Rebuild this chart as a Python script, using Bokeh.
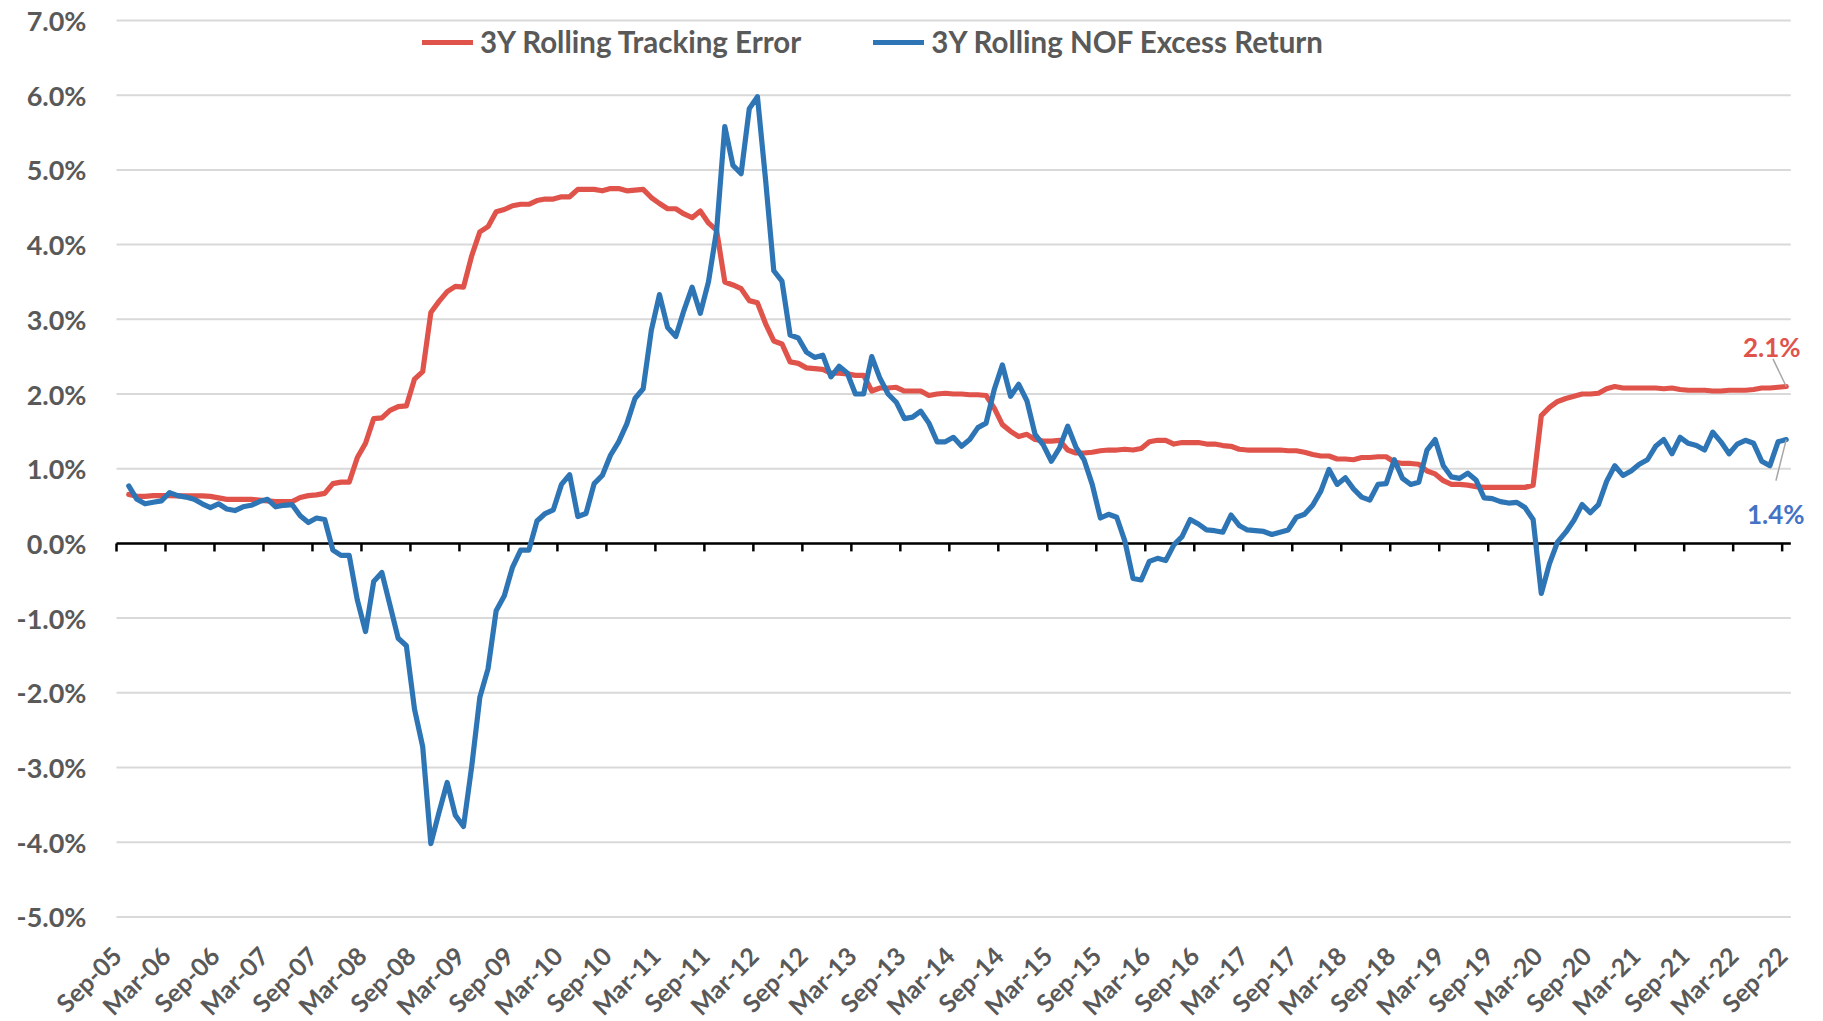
from math import pi
from bokeh.plotting import figure
from bokeh.models import (FixedTicker, PrintfTickFormatter, Legend, LegendItem,
                          Label, Range1d, LinearAxis)
from bokeh.embed import file_html
from bokeh.resources import INLINE

# ---------------- data ----------------
tick_labels = ["Sep-05", "Mar-06", "Sep-06", "Mar-07", "Sep-07", "Mar-08", "Sep-08",
               "Mar-09", "Sep-09", "Mar-10", "Sep-10", "Mar-11", "Sep-11", "Mar-12",
               "Sep-12", "Mar-13", "Sep-13", "Mar-14", "Sep-14", "Mar-15", "Sep-15",
               "Mar-16", "Sep-16", "Mar-17", "Sep-17", "Mar-18", "Sep-18", "Mar-19",
               "Sep-19", "Mar-20", "Sep-20", "Mar-21", "Sep-21", "Mar-22", "Sep-22"]

# 3Y rolling tracking error (%), monthly
tracking_error = [
    0.655, 0.63, 0.63, 0.64, 0.64, 0.64, 0.635, 0.635, 0.635, 0.635, 0.63,
    0.61, 0.59, 0.59, 0.59, 0.59, 0.58, 0.57, 0.56, 0.56, 0.56,
    0.615, 0.64, 0.65, 0.67, 0.80, 0.82, 0.82, 1.15, 1.34, 1.67,
    1.68, 1.78, 1.83, 1.84, 2.20, 2.30, 3.09, 3.24, 3.37, 3.44,
    3.43, 3.85, 4.17, 4.24, 4.44, 4.47, 4.52, 4.54, 4.54, 4.59,
    4.61, 4.61, 4.64, 4.64, 4.74, 4.74, 4.74, 4.72, 4.75, 4.75,
    4.72, 4.73, 4.74, 4.63, 4.55, 4.48, 4.48, 4.41, 4.36, 4.45,
    4.29, 4.19, 3.50, 3.46, 3.41, 3.25, 3.22, 2.94, 2.71, 2.67,
    2.43, 2.41, 2.35, 2.34, 2.33, 2.28, 2.28, 2.27, 2.25, 2.25,
    2.04, 2.08, 2.08, 2.09, 2.04, 2.04, 2.04, 1.98, 2.00, 2.01,
    2.00, 2.00, 1.99, 1.99, 1.98, 1.81, 1.59, 1.50, 1.43, 1.46,
    1.39, 1.37, 1.37, 1.38, 1.25, 1.21, 1.21, 1.22, 1.24, 1.25,
    1.25, 1.26, 1.25, 1.27, 1.36, 1.38, 1.38, 1.33, 1.35, 1.35,
    1.35, 1.33, 1.33, 1.31, 1.30, 1.26, 1.25, 1.25, 1.25, 1.25,
    1.25, 1.24, 1.24, 1.22, 1.19, 1.17, 1.17, 1.13, 1.13, 1.12,
    1.15, 1.15, 1.16, 1.16, 1.09, 1.07, 1.07, 1.06, 0.97, 0.93,
    0.84, 0.79, 0.79, 0.78, 0.76, 0.75, 0.75, 0.75, 0.75, 0.75,
    0.75, 0.78, 1.71, 1.82, 1.90, 1.94, 1.97, 2.00, 2.00, 2.01,
    2.07, 2.10, 2.08, 2.08, 2.08, 2.08, 2.08, 2.07, 2.08, 2.06,
    2.05, 2.05, 2.05, 2.04, 2.04, 2.05, 2.05, 2.05, 2.06, 2.08,
    2.08, 2.09, 2.10,
]

# 3Y rolling NOF excess return (%), monthly
excess_return = [
    0.77, 0.59, 0.53, 0.55, 0.57, 0.68, 0.64, 0.62, 0.59, 0.53, 0.48,
    0.53, 0.46, 0.44, 0.49, 0.51, 0.56, 0.59, 0.49, 0.51, 0.52,
    0.37, 0.28, 0.34, 0.32, -0.09, -0.16, -0.16, -0.76, -1.18, -0.51,
    -0.39, -0.83, -1.27, -1.37, -2.22, -2.72, -4.02, -3.60, -3.20, -3.64,
    -3.79, -2.99, -2.06, -1.68, -0.90, -0.70, -0.32, -0.09, -0.09, 0.30,
    0.40, 0.45, 0.79, 0.92, 0.36, 0.40, 0.80, 0.91, 1.18, 1.36,
    1.60, 1.94, 2.07, 2.85, 3.33, 2.89, 2.77, 3.12, 3.43, 3.08,
    3.50, 4.19, 5.58, 5.06, 4.95, 5.82, 5.98, 4.86, 3.65, 3.51,
    2.79, 2.75, 2.56, 2.49, 2.52, 2.23, 2.37, 2.28, 2.00, 2.00,
    2.50, 2.21, 2.00, 1.89, 1.67, 1.69, 1.77, 1.61, 1.36, 1.36,
    1.42, 1.30, 1.39, 1.55, 1.61, 2.06, 2.39, 1.97, 2.13, 1.91,
    1.46, 1.32, 1.10, 1.28, 1.57, 1.29, 1.12, 0.79, 0.34, 0.39,
    0.35, 0.03, -0.47, -0.49, -0.24, -0.20, -0.23, -0.02, 0.09, 0.32,
    0.26, 0.18, 0.17, 0.15, 0.38, 0.24, 0.18, 0.17, 0.16, 0.12,
    0.15, 0.18, 0.35, 0.39, 0.51, 0.70, 0.99, 0.79, 0.88, 0.73,
    0.62, 0.58, 0.79, 0.80, 1.12, 0.87, 0.79, 0.82, 1.25, 1.39,
    1.04, 0.89, 0.87, 0.94, 0.85, 0.61, 0.60, 0.56, 0.54, 0.55,
    0.48, 0.32, -0.67, -0.27, 0.02, 0.15, 0.31, 0.52, 0.41, 0.52,
    0.83, 1.04, 0.91, 0.97, 1.06, 1.12, 1.30, 1.39, 1.20, 1.42,
    1.34, 1.31, 1.25, 1.49, 1.36, 1.20, 1.33, 1.38, 1.34, 1.10,
    1.04, 1.36, 1.39,
]

y_ticks = [-5, -4, -3, -2, -1, 0, 1, 2, 3, 4, 5, 6, 7]

# x positions: months after the first axis tick (Sep-05); observations at month end
first_obs_offset = 1.5
months = [first_obs_offset + i for i in range(len(tracking_error))]
tick_pos = [6 * k for k in range(len(tick_labels))]

# ---------------- layout constants (pixels) ----------------
RED = "#E0534B"
BLUE = "#2E75B6"
LABEL_BLUE = "#4472C4"
GRAY_TXT = "#595959"
GRID = "#D9D9D9"
FONT = "Lato"

CANVAS_W, CANVAS_H = 1815, 1020
PLOT_LEFT, PLOT_TOP = 116, 20        # pixel position of (Sep-05, 7%)
px_x = 8.165                          # pixels per month
px_y = 74.70                          # pixels per percentage point
X_AXIS_END = 205.06                   # right end of the plotting area (months)
Y_MIN, Y_MAX = -5, 7

x_view = (-PLOT_LEFT / px_x, (CANVAS_W - PLOT_LEFT) / px_x)
y_view = (Y_MAX - (CANVAS_H - PLOT_TOP) / px_y, Y_MAX + PLOT_TOP / px_y)

p = figure(frame_width=CANVAS_W, frame_height=CANVAS_H,
           x_range=Range1d(*x_view), y_range=Range1d(*y_view),
           output_backend="svg", toolbar_location=None,
           x_axis_location=None, y_axis_location=None,
           min_border=0, outline_line_color=None,
           background_fill_color="white", border_fill_color="white")
p.xgrid.grid_line_color = None
p.ygrid.grid_line_color = None

# value axis: labels only, pinned at the left edge of the plotting area
value_axis = LinearAxis(ticker=FixedTicker(ticks=y_ticks), fixed_location=0,
                        formatter=PrintfTickFormatter(format="%.1f%%"),
                        axis_line_color=None, major_tick_line_color=None,
                        minor_tick_line_color=None, major_tick_out=0, major_tick_in=0,
                        major_label_standoff=30,
                        major_label_text_font=FONT, major_label_text_font_style="bold",
                        major_label_text_font_size="27px",
                        major_label_text_color=GRAY_TXT)
p.add_layout(value_axis, "left")

# date labels: an axis pinned to the bottom gridline (-5%)
date_axis = LinearAxis(ticker=FixedTicker(ticks=tick_pos), fixed_location=Y_MIN,
                       axis_line_color=None, major_tick_line_color=None,
                       minor_tick_line_color=None, major_tick_out=0, major_tick_in=0,
                       major_label_standoff=34,
                       major_label_orientation=pi / 4,
                       major_label_overrides={t: l for t, l in zip(tick_pos, tick_labels)},
                       major_label_text_font=FONT, major_label_text_font_style="bold",
                       major_label_text_font_size="25px",
                       major_label_text_color=GRAY_TXT)
p.add_layout(date_axis, "below")

# horizontal gridlines across the plotting area
p.segment(x0=[0] * len(y_ticks), x1=[X_AXIS_END] * len(y_ticks), y0=y_ticks, y1=y_ticks,
          line_color=GRID, line_width=2)

# category axis line drawn at zero with downward tick marks
tick_len = 8 / px_y
p.segment(x0=[0], x1=[X_AXIS_END], y0=[0], y1=[0], line_color="black", line_width=2.5)
p.segment(x0=tick_pos, x1=tick_pos, y0=[0] * len(tick_pos), y1=[-tick_len] * len(tick_pos),
          line_color="black", line_width=2.5)

r_te = p.line(months, tracking_error, line_color=RED, line_width=5.2,
              line_join="round", line_cap="round")
r_er = p.line(months, excess_return, line_color=BLUE, line_width=5.2,
              line_join="round", line_cap="round")

legend = Legend(items=[LegendItem(label="3Y Rolling Tracking Error", renderers=[r_te]),
                       LegendItem(label="3Y Rolling NOF Excess Return", renderers=[r_er])],
                orientation="horizontal", location=(422, CANVAS_H - 59),
                label_text_font=FONT, label_text_font_style="bold",
                label_text_font_size="29.5px", label_text_color=GRAY_TXT,
                glyph_width=51, glyph_height=34, label_height=34,
                label_standoff=7, spacing=72,
                padding=0, margin=0, border_line_color=None,
                background_fill_alpha=0)
p.add_layout(legend, "center")

# end-point data labels with leader lines
x_last = months[-1]
te_last = tracking_error[-1]
er_last = excess_return[-1]
p.segment(x0=[x_last, x_last], y0=[te_last, er_last],
          x1=[x_last - 13.3 / px_x, x_last - 10.3 / px_x],
          y1=[te_last + 27.7 / px_y, er_last - 41 / px_y],
          line_color="#A6A6A6", line_width=1.5)
p.add_layout(Label(x=x_last, y=te_last, text=f"{te_last:.1f}%", x_offset=-14.5, y_offset=40,
                   text_align="center", text_baseline="alphabetic", text_font=FONT,
                   text_font_style="bold", text_font_size="26px", text_color=RED))
p.add_layout(Label(x=x_last, y=er_last, text=f"{er_last:.1f}%", x_offset=-10.5, y_offset=-74,
                   text_align="center", text_baseline="alphabetic", text_font=FONT,
                   text_font_style="bold", text_font_size="26px", text_color=LABEL_BLUE))

open("out.html", "w").write(file_html(p, INLINE))
